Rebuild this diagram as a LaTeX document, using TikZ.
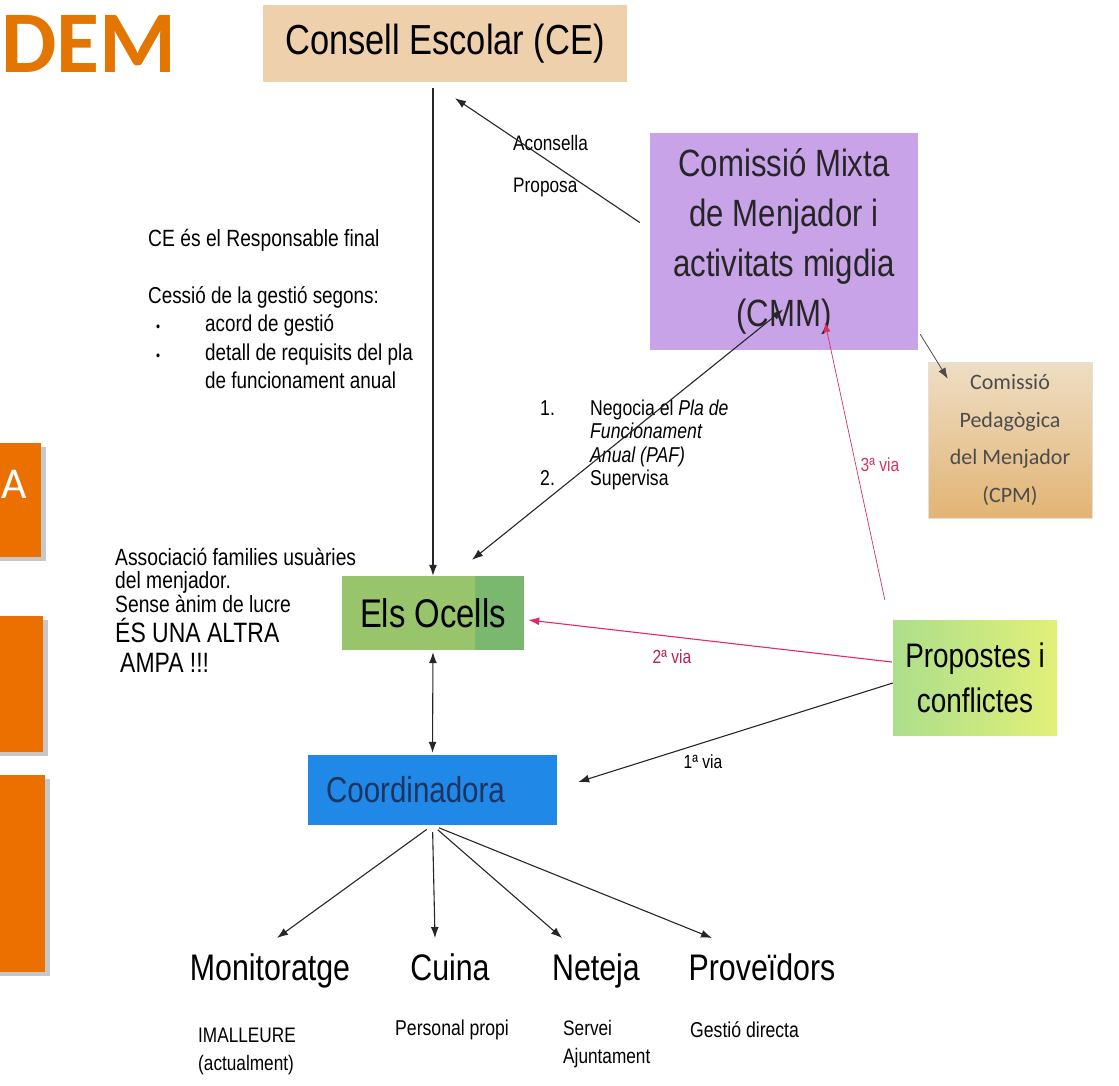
\documentclass[tikz,border=0pt]{standalone}
\usepackage{fontspec}
\usepackage{xcolor}
\usepackage{tikz}
\usetikzlibrary{arrows.meta,calc}

\setmainfont{Liberation Sans}
\newfontfamily\narrowfont[FakeStretch=0.82]{Liberation Sans}
\newfontfamily\calfont{Carlito}
\newcommand{\fsz}[2]{\fontsize{#1}{#2}\selectfont}

\definecolor{demorange}{RGB}{226,118,0}
\definecolor{boxorange}{RGB}{236,112,0}
\definecolor{cefill}{RGB}{238,208,172}
\definecolor{cmmfill}{RGB}{200,163,232}
\definecolor{cpmtop}{RGB}{238,222,196}
\definecolor{cpmbot}{RGB}{226,180,116}
\definecolor{ocellsfill}{RGB}{152,196,108}
\definecolor{ocellsdark}{RGB}{122,184,112}
\definecolor{propleft}{RGB}{172,222,140}
\definecolor{propright}{RGB}{226,240,120}
\definecolor{coordfill}{RGB}{32,136,230}
\definecolor{coordtext}{RGB}{30,52,96}
\definecolor{viared}{RGB}{214,50,90}
\definecolor{viapink}{RGB}{232,40,100}

\begin{document}
\begin{tikzpicture}[x=1pt,y=-1pt]

\tikzset{box/.style={inner sep=0pt, align=center, font=\narrowfont},
txt/.style={inner sep=0pt, align=left, anchor=west, font=\narrowfont},
arr/.style={-{Latex[length=11pt,width=8pt]}, line width=1.1pt, black!85},
arrboth/.style={{Latex[length=11pt,width=8pt]}-{Latex[length=11pt,width=8pt]}, line width=1.1pt, black!85}}

\useasboundingbox (0,0) rectangle (1119,1085);
\clip (0,0) rectangle (1119,1085);

%left side of the slide
\node[anchor=west, inner sep=0pt, font=\calfont\bfseries\fsz{88}{88}, text=demorange] (dem) at (1,44) {DEM};

\foreach \top/\bot/\rgt in {443/557/41, 616/752/43, 775/972/45}{
  \fill[black!22] (-5,\top+4) rectangle (\rgt+5,\bot+4);
  \fill[boxorange] (-5,\top) rectangle (\rgt,\bot);
}
\node[anchor=west, inner sep=0pt, font=\calfont\fsz{44}{44}, text=white] (aletter) at (1,484) {A};

%the boxes
\node[box, fill=cefill, minimum width=364pt, minimum height=77pt, font=\narrowfont\fsz{42}{46}] (ce) at (445,43.5) {Consell Escolar (CE)};

\node[box, fill=cmmfill, minimum width=268pt, minimum height=217pt, font=\narrowfont\fsz{38}{50}, text=black!85] (cmm) at (784,241.5) {Comissió Mixta\\de Menjador i\\activitats migdia\\(CMM)};

\node[box, top color=cpmtop, bottom color=cpmbot, draw=black!12, minimum width=164pt, minimum height=156pt, font=\calfont\fsz{22}{37.5}, text=black!70] (cpm) at (1010,440) {Comissió\\Pedagògica\\del Menjador\\(CPM)};

\node[box, fill=ocellsfill, minimum width=182pt, minimum height=74pt, font=\narrowfont\fsz{40}{44},
  path picture={\fill[ocellsdark] ([xshift=-49pt]path picture bounding box.north east) rectangle (path picture bounding box.south east);}] (ocells) at (433,613) {Els Ocells};

\node[box, left color=propleft, right color=propright, minimum width=164pt, minimum height=115pt, font=\narrowfont\fsz{34}{45}] (prop) at (975,677.5) {Propostes i\\conflictes};

\node[box, fill=coordfill, minimum width=249pt, minimum height=70pt, font=\narrowfont\fsz{36}{40}, text=coordtext] (coord) at (432.5,790) {Coordinadora\hspace*{34pt}};

%texts
\node[txt, font=\narrowfont\fsz{23.5}{28.5}] (resp) at (148,240) {CE és el Responsable final};
\node[txt, font=\narrowfont\fsz{23}{28.5}] (cessio) at (148,337.5) {Cessió de la gestió segons:\\
\hspace*{8pt}\makebox[49pt][l]{\fsz{14}{14}•}acord de gestió\\
\hspace*{8pt}\makebox[49pt][l]{\fsz{14}{14}•}detall de requisits del pla\\
\hspace*{57pt}de funcionament anual};

\node[txt, font=\narrowfont\fsz{21.5}{23.3}] (paf) at (540,445) {\makebox[50pt][l]{1.}Negocia el \textit{Pla de}\\
\hspace*{50pt}\textit{Funcionament}\\
\hspace*{50pt}\textit{Anual (PAF)}\\
\makebox[50pt][l]{2.}Supervisa};

\node[txt, font=\narrowfont\fsz{23.5}{23.5}] (assoc) at (115,580) {Associació families usuàries\\del menjador.\\Sense ànim de lucre};
\node[txt, font=\narrowfont\fsz{28}{30}] (ampa) at (115,645) {ÉS UNA ALTRA\\\hspace*{5pt}AMPA !!!};

\node[txt, font=\narrowfont\fsz{21}{21}] (acons) at (513,143) {Aconsella};
\node[txt, font=\narrowfont\fsz{21}{21}] (proposa) at (513,187) {Proposa};

\node[inner sep=0pt, font=\narrowfont\fsz{19}{19}, text=viared] (via3) at (880,465) {3ª via};
\node[inner sep=0pt, font=\narrowfont\fsz{19}{19}, text=viapink!80!black] (via2) at (672,657) {2ª via};
\node[inner sep=0pt, font=\narrowfont\fsz{19}{19}] (via1) at (703,762) {1ª via};

%the four services
\foreach \n/\x/\t in {mon/270/Monitoratge, cuina/450/Cuina, neteja/596/Neteja, prov/762/Proveïdors}
  \node[anchor=base, inner sep=0pt, font=\narrowfont\fsz{37}{40}] (\n) at (\x,980) {\t};

\node[txt, font=\narrowfont\fsz{21}{28}] (imall) at (198,1051) {IMALLEURE\\(actualment)};
\node[txt, font=\narrowfont\fsz{21.5}{28}] (propi) at (395,1030) {Personal propi};
\node[txt, font=\narrowfont\fsz{21}{28}] (servei) at (563,1044.5) {Servei\\Ajuntament};
\node[txt, font=\narrowfont\fsz{21.5}{28}] (gestio) at (690,1030) {Gestió directa};

%connectors
\draw[arr, shorten <=6pt] (ce.south -| ocells.north) -- (ocells.north);
\draw[arr] ([shift={(-10,-19)}]cmm.west) -- ([shift={(10,16)}]ce.south);
\draw[arrboth] ([shift={(-1,68)}]cmm.center) -- ([shift={(39,-16)}]ocells.north);
\draw[arr, line width=0.8pt, black!70] ([shift={(2,-16)}]cmm.south east) -- ([shift={(20,17)}]cpm.north west);

\draw[-{Latex[length=10pt,width=7pt]}, line width=0.7pt, viared] ([shift={(-8,-20)}]prop.north west) -- ([shift={(41,-28)}]cmm.south);
\draw[-{Latex[length=11pt,width=8pt]}, line width=1.1pt, viapink] ([shift={(-1,-15.5)}]prop.west) -- ([shift={(4,7)}]ocells.east);
\draw[arr] ([shift={(0,5.5)}]prop.west) -- ([shift={(21,-8)}]coord.east);

\draw[arrboth, shorten <=2pt, shorten >=2pt] (ocells.south) -- (coord.north);

\foreach \t/\dx in {mon/7, cuina/-15, neteja/-34, prov/-50}
  \draw[arr, shorten <=7pt] (coord.south) -- ([shift={(\dx,-15)}]\t.north);

\end{tikzpicture}
\end{document}
